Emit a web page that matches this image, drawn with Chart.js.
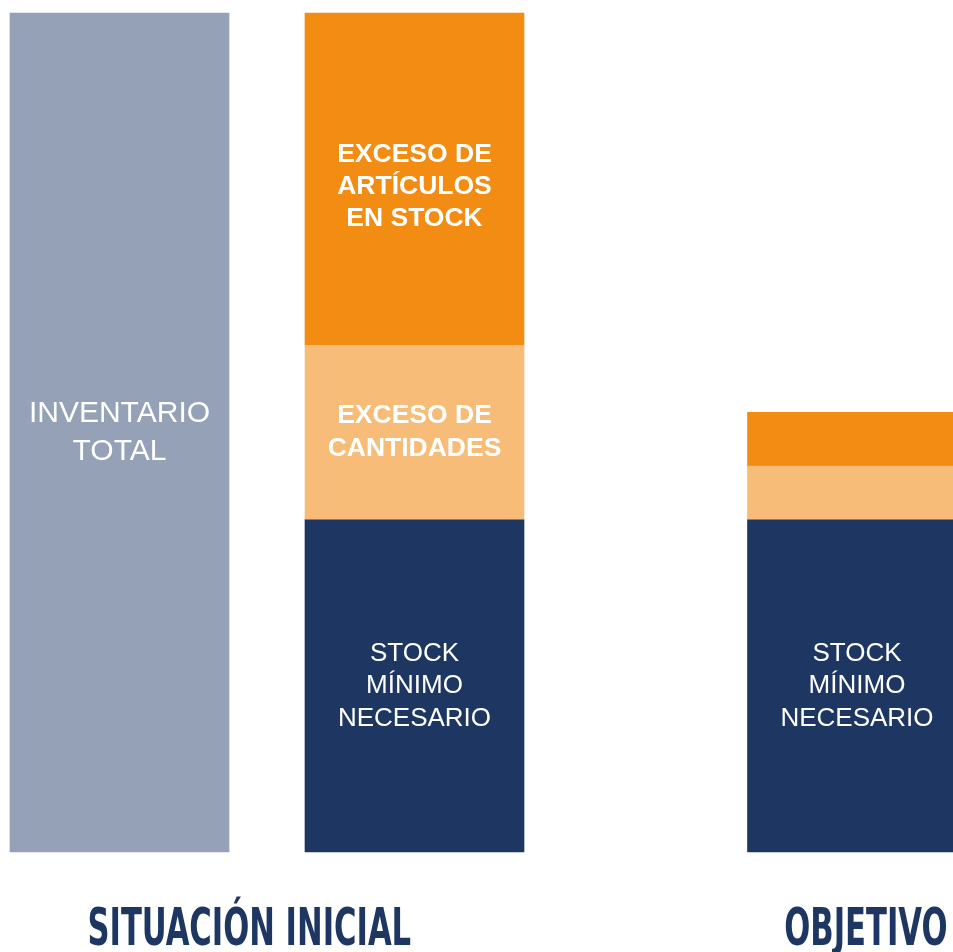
<!DOCTYPE html>
<html lang="es">
<head>
    <meta charset="UTF-8">
    <title>Inventario: situación inicial y objetivo</title>
    <style>
        html, body { margin: 0; padding: 0; background: #ffffff; overflow: hidden; }
        #wrap { width: 953px; height: 952px; position: relative; }
    </style>
    <script src="https://cdn.jsdelivr.net/npm/chart.js"></script>
</head>
<body>
    <div id="wrap"><canvas id="stockChart"></canvas></div>
    <script>
        // huecos del eje: las barras no están a la misma distancia
        const categorias = ['Inventario total', '', 'Situación inicial', '', '', 'Objetivo'];
        const inventarioTotal  = [100, null, null, null, null, null];
        const stockMinimo      = [null, null, 39.6, null, null, 39.6];
        const excesoCantidades = [null, null, 20.8, null, null, 6.4];
        const excesoArticulos  = [null, null, 39.6, null, null, 6.4];

        const grupos = ['SITUACIÓN INICIAL', 'OBJETIVO'];
        const grupoPos = [0.88, 5.06]; // posición en el eje (índice de categoría)

        const azul = '#1e3762';

        // texto blanco centrado dentro de cada tramo
        const textoBarras = {
            id: 'textoBarras',
            afterDatasetsDraw(chart) {
                const ctx = chart.ctx;
                chart.data.datasets.forEach((ds, i) => {
                    const meta = chart.getDatasetMeta(i);
                    meta.data.forEach((bar, j) => {
                        if (ds.data[j] == null) return;
                        const alto = Math.abs(bar.base - bar.y);
                        const lh = ds.lineHeight;
                        if (alto < ds.lineas.length * lh + 20) return;
                        ctx.save();
                        ctx.fillStyle = '#ffffff';
                        ctx.font = ds.fuente;
                        ctx.textAlign = 'center';
                        ctx.textBaseline = 'middle';
                        const cy = (bar.y + bar.base) / 2 + (ds.desplazar || 0);
                        const y0 = cy - (ds.lineas.length - 1) * lh / 2;
                        ds.lineas.forEach((t, k) => ctx.fillText(t, bar.x, y0 + k * lh));
                        ctx.restore();
                    });
                });
            }
        };

        // títulos de grupo, letra estrecha
        const titulos = {
            id: 'titulos',
            afterDraw(chart) {
                const ctx = chart.ctx;
                const x = chart.scales.x;
                ctx.save();
                ctx.fillStyle = azul;
                ctx.font = 'bold 52px "Liberation Sans Narrow", "DejaVu Sans Condensed", sans-serif';
                ctx.textAlign = 'center';
                ctx.textBaseline = 'alphabetic';
                grupos.forEach((g, i) => {
                    ctx.save();
                    ctx.translate(x.getPixelForValue(grupoPos[i]), 945);
                    ctx.scale(0.655, 1);
                    ctx.fillText(g, 0, 0);
                    ctx.restore();
                });
                ctx.restore();
            }
        };

        const ctx = document.getElementById('stockChart').getContext('2d');
        new Chart(ctx, {
            type: 'bar',
            data: {
                labels: categorias,
                datasets: [
                    {
                        label: 'Inventario total',
                        data: inventarioTotal,
                        backgroundColor: '#95a1b7',
                        lineas: ['INVENTARIO', 'TOTAL'],
                        fuente: '30px "Liberation Sans", Arial, sans-serif',
                        lineHeight: 38
                    },
                    {
                        label: 'Stock mínimo necesario',
                        data: stockMinimo,
                        backgroundColor: azul,
                        lineas: ['STOCK', 'MÍNIMO', 'NECESARIO'],
                        fuente: '26px "Liberation Sans", Arial, sans-serif',
                        lineHeight: 32.5
                    },
                    {
                        label: 'Exceso de cantidades',
                        data: excesoCantidades,
                        backgroundColor: '#f6bc78',
                        lineas: ['EXCESO DE', 'CANTIDADES'],
                        fuente: 'bold 26.5px "Liberation Sans", Arial, sans-serif',
                        lineHeight: 33
                    },
                    {
                        label: 'Exceso de artículos en stock',
                        data: excesoArticulos,
                        backgroundColor: '#f28c13',
                        lineas: ['EXCESO DE', 'ARTÍCULOS', 'EN STOCK'],
                        fuente: 'bold 26.5px "Liberation Sans", Arial, sans-serif',
                        lineHeight: 32,
                        desplazar: 8
                    }
                ]
            },
            options: {
                responsive: true,
                maintainAspectRatio: false,
                animation: false,
                layout: {
                    padding: { left: 45.75, right: 22.25, top: 13, bottom: 100 }
                },
                datasets: {
                    bar: { barThickness: 219, borderWidth: 0, clip: false, skipNull: true }
                },
                scales: {
                    x: { stacked: true, display: false },
                    y: { stacked: true, display: false, min: 0, max: 100 }
                },
                plugins: {
                    legend: { display: false },
                    tooltip: { enabled: false }
                }
            },
            plugins: [textoBarras, titulos]
        });
    </script>
</body>
</html>
